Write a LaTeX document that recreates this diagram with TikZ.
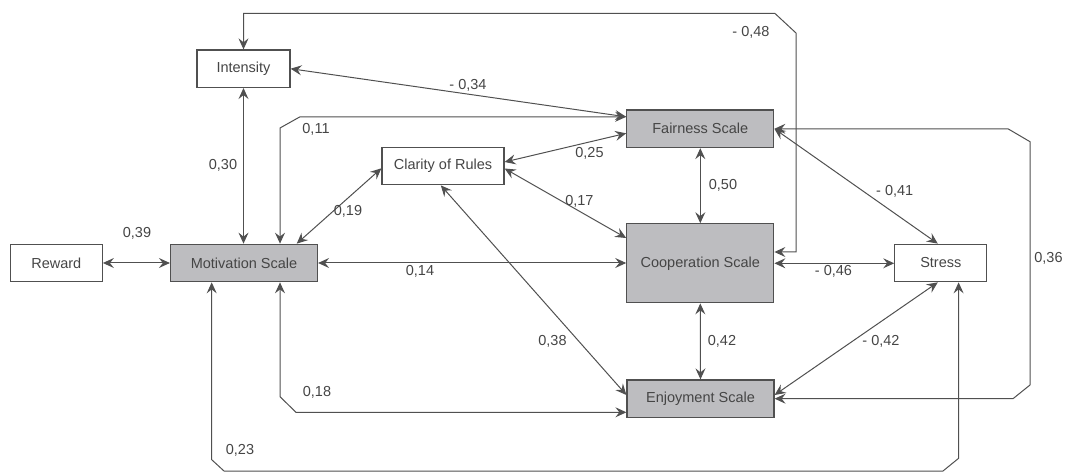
\documentclass[tikz,border=0pt]{standalone}
\usepackage{fontspec}
\setmainfont{Liberation Sans}
\usetikzlibrary{arrows.meta,calc}
\definecolor{linegray}{HTML}{505050}
\definecolor{boxgray}{HTML}{BDBDC0}
\definecolor{textgray}{HTML}{454545}
\tikzset{
  obsbox/.style={draw=linegray,line width=1.2pt,inner sep=0pt,minimum height=37.5pt,text=textgray,font=\fontsize{14.5}{17}\selectfont},
  scalebox/.style={obsbox,fill=boxgray,minimum width=147pt},
  corr/.style={draw=linegray,line width=1pt,{Stealth[length=11pt,width=10pt,inset=4pt]}-{Stealth[length=11pt,width=10pt,inset=4pt]}},
  coef/.style={text=textgray,font=\fontsize{14.5}{17}\selectfont,inner sep=0pt}
}
\begin{document}
\begin{tikzpicture}[x=1pt,y=-1pt]
\useasboundingbox (0,0) rectangle (1072,473);
% variables
\node[obsbox,minimum width=93pt] (intensity) at (243.5,68.7) {Intensity};
\node[obsbox,minimum width=122pt] (clarity) at (443,166) {Clarity of Rules};
\node[obsbox,minimum width=92pt] (reward) at (56.3,263) {Reward};
\node[scalebox] (motivation) at (244,263) {Motivation Scale};
\node[scalebox] (fairness) at (700.3,128.8) {Fairness Scale};
\node[scalebox,minimum height=79pt] (cooperation) at (700.3,263.3) {Cooperation Scale};
\node[scalebox] (enjoyment) at (700.5,398.7) {Enjoyment Scale};
\node[obsbox,minimum width=92pt] (stress) at (940.8,263) {Stress};
% correlations
\draw[corr] (reward.east) -- (motivation.west);
\draw[corr] (intensity.south) -- (intensity.south |- motivation.north);
\draw[corr] (intensity.east) -- ($(fairness.west)+(0,-12)$);
\draw[corr] ($(fairness.west)+(0,-12)$) -- (300,116.8) -- (280,128) -- ($(motivation.north)+(36,0)$);
\draw[corr] (intensity.north) |- (775,13.5) -- (796,33) |- ($(cooperation.east)+(0,-11.3)$);
\draw[corr] ($(clarity.west)+(0,2.3)$) -- ($(motivation.north)+(52.7,0)$);
\draw[corr] ($(clarity.east)+(0,-4)$) -- ($(fairness.west)+(0,4.5)$);
\draw[corr] ($(clarity.east)+(0,2.5)$) -- ($(cooperation.west)+(0,-25.3)$);
\draw[corr] ($(clarity.south)+(-2.2,0)$) -- ($(enjoyment.west)+(0,-3.7)$);
\draw[corr] (motivation.east) -- (motivation.east -| cooperation.west);
\draw[corr] ($(motivation.south)+(36,0)$) -- (280,396.7) -- (296,412.3) -- ($(enjoyment.west)+(0,13.6)$);
\draw[corr] ($(motivation.south)+(-32.3,0)$) -- (211.7,459.7) -- (224,471) -- (943,471) -- (958.6,458.3) -- ($(stress.south)+(17.8,0)$);
\draw[corr] (fairness.south) -- (cooperation.north);
\draw[corr] (fairness.east) -- ($(stress.north)+(-3,0)$);
\draw[corr] (fairness.east) -- (1008,128.8) -- (1030,141.7) -- (1030,385) -- (1013,398.7) -- (enjoyment.east);
\draw[corr] (cooperation.east) -- (cooperation.east -| stress.west);
\draw[corr] (cooperation.south) -- (enjoyment.north);
\draw[corr] ($(stress.south)+(-3,0)$) -- ($(enjoyment.east)+(0,-3.7)$);
% coefficients
\node[coef] (c39) at (137,233.3) {0,39};
\node[coef] (c30) at (223,165.7) {0,30};
\node[coef] (c34) at (468,85) {- 0,34};
\node[coef] (c11) at (316,129.3) {0,11};
\node[coef] (c48) at (751,32.3) {- 0,48};
\node[coef] (c19) at (348,211) {0,19};
\node[coef] (c25) at (589.5,153.3) {0,25};
\node[coef] (c17) at (579.4,201.7) {0,17};
\node[coef] (c50) at (723,185) {0,50};
\node[coef] (c41) at (894.7,191.7) {- 0,41};
\node[coef] (c14) at (420,271.7) {0,14};
\node[coef] (c46) at (833.5,271.7) {- 0,46};
\node[coef] (c36) at (1048.5,258.3) {0,36};
\node[coef] (c38) at (552.5,341.7) {0,38};
\node[coef] (c42) at (722,341.7) {0,42};
\node[coef] (c42n) at (881,341.7) {- 0,42};
\node[coef] (c18) at (317,392.3) {0,18};
\node[coef] (c23) at (240,450.7) {0,23};
\end{tikzpicture}
\end{document}
